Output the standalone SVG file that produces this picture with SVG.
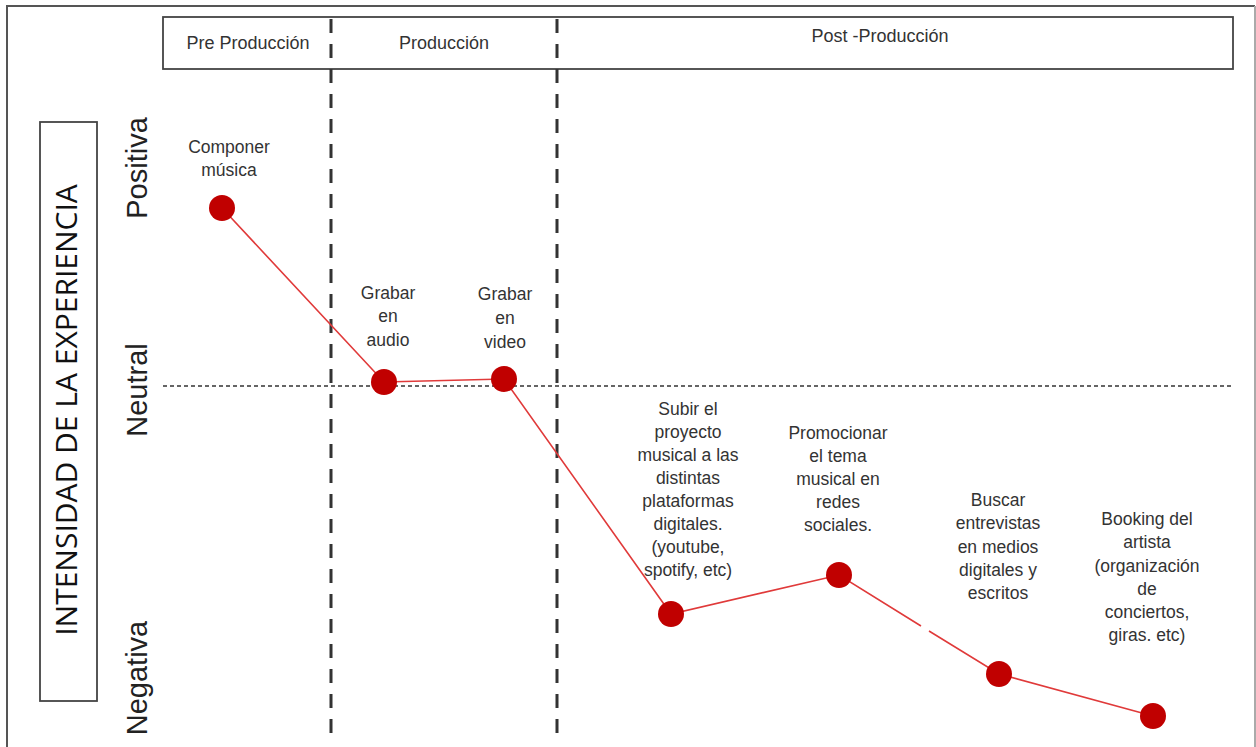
<svg xmlns="http://www.w3.org/2000/svg" width="1256" height="747" viewBox="0 0 1256 747">
  <style>
    .frame { fill: none; stroke: #555; stroke-width: 2; }
    .box { fill: #fff; stroke: #444; stroke-width: 1.8; }
    .divider { stroke: #333; stroke-width: 3; stroke-dasharray: 14 11; fill: none; }
    .neutral { stroke: #333; stroke-width: 1.3; stroke-dasharray: 4 3; fill: none; }
    .curve { stroke: #e03a3a; stroke-width: 1.6; fill: none; }
    .dot { fill: #c00000; }
    .hdr { font-family: "Liberation Sans", Arial, sans-serif; font-size: 18px; fill: #333; text-anchor: middle; }
    .lbl { font-family: "Liberation Sans", Arial, sans-serif; font-size: 17.5px; fill: #333; text-anchor: middle; }
    .axis { font-family: "Liberation Sans", Arial, sans-serif; font-size: 29px; fill: #222; text-anchor: middle; }
    .title { font-family: "Open Sans", "Liberation Sans", sans-serif; font-size: 30px; fill: #111; text-anchor: middle; }
  </style>

  <rect width="1256" height="747" fill="#fff"/>

  <!-- outer frame -->
  <path class="frame" d="M7 747 V6 H1255"/>
  <line x1="1255" y1="6" x2="1255" y2="747" stroke="#aaa" stroke-width="2"/>

  <!-- stage header -->
  <g id="header">
    <rect class="box" x="163" y="17" width="1070" height="52"/>
    <text class="hdr" x="248" y="49">Pre Producción</text>
    <text class="hdr" x="444" y="49">Producción</text>
    <text class="hdr" x="880" y="42">Post -Producción</text>
  </g>

  <!-- stage dividers -->
  <g id="dividers">
    <line class="divider" x1="331" y1="19" x2="331" y2="740"/>
    <line class="divider" x1="557" y1="19" x2="557" y2="740"/>
  </g>

  <!-- vertical axis -->
  <g id="axis-title">
    <rect class="box" x="40" y="122" width="57" height="579"/>
    <text class="title" transform="translate(77 410) rotate(-90)">INTENSIDAD DE LA EXPERIENCIA</text>
  </g>
  <g id="axis-levels">
    <text class="axis" transform="translate(147 168) rotate(-90)">Positiva</text>
    <text class="axis" transform="translate(147 390) rotate(-90)">Neutral</text>
    <text class="axis" transform="translate(147 678) rotate(-90)">Negativa</text>
  </g>

  <!-- neutral baseline -->
  <line class="neutral" x1="163" y1="386" x2="1232" y2="386"/>

  <!-- connectors -->
  <g id="connectors">
    <polyline class="curve" points="222,208 384,382 504,379 671,614 839,575 921,626"/>
    <polyline class="curve" points="929,631 999,674 1153,716"/>
  </g>

  <!-- steps -->
  <g id="componer">
    <circle class="dot" cx="222" cy="208" r="13"/>
    <text class="lbl" x="229" y="153">Componer</text>
    <text class="lbl" x="229" y="176">música</text>
  </g>
  <g id="grabar-audio">
    <circle class="dot" cx="384" cy="382" r="13"/>
    <text class="lbl" x="388" y="299">Grabar</text>
    <text class="lbl" x="388" y="322">en</text>
    <text class="lbl" x="388" y="346">audio</text>
  </g>
  <g id="grabar-video">
    <circle class="dot" cx="504" cy="379" r="13"/>
    <text class="lbl" x="505" y="300">Grabar</text>
    <text class="lbl" x="505" y="324">en</text>
    <text class="lbl" x="505" y="348">video</text>
  </g>
  <g id="subir">
    <circle class="dot" cx="671" cy="614" r="13"/>
    <text class="lbl" x="688" y="415">Subir el</text>
    <text class="lbl" x="688" y="438">proyecto</text>
    <text class="lbl" x="688" y="461">musical a las</text>
    <text class="lbl" x="688" y="484">distintas</text>
    <text class="lbl" x="688" y="507">plataformas</text>
    <text class="lbl" x="688" y="530">digitales.</text>
    <text class="lbl" x="688" y="553">(youtube,</text>
    <text class="lbl" x="688" y="576">spotify, etc)</text>
  </g>
  <g id="promocionar">
    <circle class="dot" cx="839" cy="575" r="13"/>
    <text class="lbl" x="838" y="439">Promocionar</text>
    <text class="lbl" x="838" y="462">el tema</text>
    <text class="lbl" x="838" y="485">musical en</text>
    <text class="lbl" x="838" y="508">redes</text>
    <text class="lbl" x="838" y="531">sociales.</text>
  </g>
  <g id="entrevistas">
    <circle class="dot" cx="999" cy="674" r="13"/>
    <text class="lbl" x="998" y="506">Buscar</text>
    <text class="lbl" x="998" y="529">entrevistas</text>
    <text class="lbl" x="998" y="553">en medios</text>
    <text class="lbl" x="998" y="576">digitales y</text>
    <text class="lbl" x="998" y="599">escritos</text>
  </g>
  <g id="booking">
    <circle class="dot" cx="1153" cy="716" r="13"/>
    <text class="lbl" x="1147" y="525">Booking del</text>
    <text class="lbl" x="1147" y="548">artista</text>
    <text class="lbl" x="1147" y="572">(organización</text>
    <text class="lbl" x="1147" y="595">de</text>
    <text class="lbl" x="1147" y="618">conciertos,</text>
    <text class="lbl" x="1147" y="641">giras. etc)</text>
  </g>
</svg>
